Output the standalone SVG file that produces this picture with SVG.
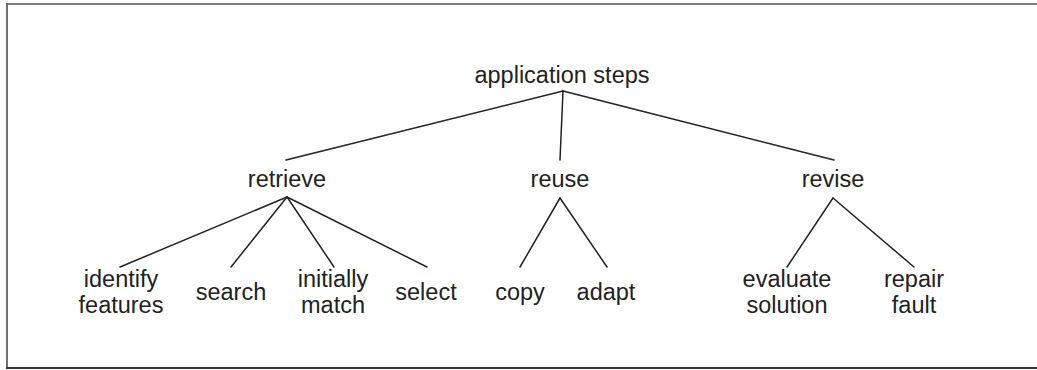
<svg xmlns="http://www.w3.org/2000/svg" width="1037" height="370" viewBox="0 0 1037 370">
  <style>
    .lbl { font-family: "Liberation Sans", Arial, Helvetica, sans-serif; font-size: 23.5px; fill: #222; text-anchor: middle; }
    .edge { stroke: #222; stroke-width: 1.5; fill: none; stroke-linecap: round; }
  </style>
  <rect width="1037" height="370" fill="#fff"/>
  <!-- frame -->
  <g id="frame" fill="none">
    <line x1="6" y1="4" x2="1037" y2="4" stroke="#808080" stroke-width="2"/>
    <line x1="7" y1="3" x2="7" y2="368" stroke="#707070" stroke-width="2"/>
    <line x1="6" y1="368" x2="1037" y2="368" stroke="#333" stroke-width="2"/>
  </g>
  <g id="connectors" class="edge">
    <line class="edge" x1="563" y1="91" x2="286" y2="160"/>
    <line class="edge" x1="563" y1="91" x2="560" y2="160"/>
    <line class="edge" x1="563" y1="91" x2="834" y2="160"/>
    <line class="edge" x1="287" y1="197" x2="120" y2="267"/>
    <line class="edge" x1="287" y1="197" x2="231" y2="267"/>
    <line class="edge" x1="287" y1="197" x2="334" y2="267"/>
    <line class="edge" x1="287" y1="197" x2="427" y2="267"/>
    <line class="edge" x1="560" y1="198" x2="520" y2="267"/>
    <line class="edge" x1="560" y1="198" x2="607" y2="267"/>
    <line class="edge" x1="833" y1="198" x2="787" y2="267"/>
    <line class="edge" x1="833" y1="198" x2="914" y2="267"/>
  </g>
  <g id="application-steps"><text class="lbl" x="562" y="83">application steps</text></g>
  <g id="retrieve"><text class="lbl" x="287" y="187">retrieve</text></g>
  <g id="reuse"><text class="lbl" x="560" y="187">reuse</text></g>
  <g id="revise"><text class="lbl" x="833" y="187">revise</text></g>
  <g id="identify-features"><text class="lbl" x="121" y="287">identify</text><text class="lbl" x="121" y="313">features</text></g>
  <g id="search"><text class="lbl" x="231" y="300">search</text></g>
  <g id="initially-match"><text class="lbl" x="333" y="287">initially</text><text class="lbl" x="333" y="313">match</text></g>
  <g id="select"><text class="lbl" x="426" y="300">select</text></g>
  <g id="copy"><text class="lbl" x="520" y="300">copy</text></g>
  <g id="adapt"><text class="lbl" x="606" y="300">adapt</text></g>
  <g id="evaluate-solution"><text class="lbl" x="787" y="287">evaluate</text><text class="lbl" x="787" y="313">solution</text></g>
  <g id="repair-fault"><text class="lbl" x="914" y="287">repair</text><text class="lbl" x="914" y="313">fault</text></g>
</svg>
